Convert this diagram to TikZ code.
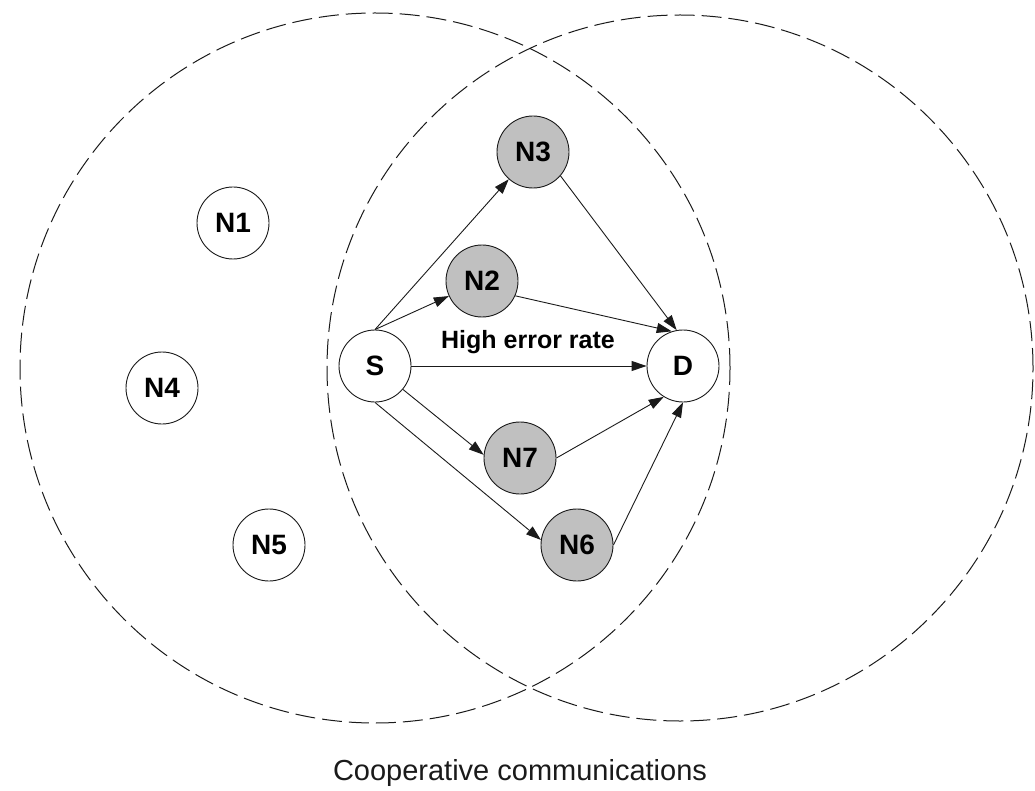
\documentclass[tikz,border=0pt]{standalone}
\usepackage{fontspec}
\setmainfont{Liberation Sans}
\usetikzlibrary{arrows.meta}
\definecolor{relayfill}{HTML}{C0C0C0}
\definecolor{darkline}{HTML}{1A1A1A}
\tikzset{
  terminal/.style={circle, draw=darkline, fill=white, line width=0.9pt, minimum size=72pt, inner sep=0pt, font=\fontsize{28}{28}\selectfont\bfseries},
  relay/.style={terminal, fill=relayfill},
  zone/.style={dashed, dash pattern=on 20pt off 7pt, draw=darkline, line width=1pt},
  flow/.style={-{Triangle[length=15pt, width=10pt]}, line width=0.9pt, draw=darkline},
  caption/.style={font=\fontsize{29}{29}\selectfont, text=darkline, anchor=base}
}
\begin{document}
\begin{tikzpicture}[x=1pt, y=-1pt]
\useasboundingbox (0,0) rectangle (1035,791);

\draw[zone] (375,368) circle[radius=355pt];
\draw[zone] (680,368) circle[radius=353pt];

\node[terminal] (n1) at (233,223) {N1};
\node[terminal] (n4) at (162,388) {N4};
\node[terminal] (n5) at (269,545) {N5};

\node[terminal] (s) at (375,366) {S};
\node[terminal] (d) at (683,366) {D};

\node[relay] (n3) at (533,152) {N3};
\node[relay] (n2) at (482,281) {N2};
\node[relay] (n7) at (520,458) {N7};
\node[relay] (n6) at (577,545) {N6};

\node[font=\fontsize{25}{25}\selectfont\bfseries, anchor=base] (errlabel) at (528,348) {High error rate};

\draw[flow] (s.north) -- (n3);
\draw[flow] (s.north) -- (n2);
\draw[flow] (s.east) -- (d.west);
\draw[flow] (s.-40) -- (n7.175);
\draw[flow] (s.south) -- (n6.172);

\draw[flow] (n3.-41) -- (d.100);
\draw[flow] (n2.-24) -- (d.108);
\draw[flow] (n7.east) -- (d.-122);
\draw[flow] (n6.east) -- (d.south);

\node[caption] (title) at (520,780) {Cooperative communications};

\end{tikzpicture}
\end{document}
